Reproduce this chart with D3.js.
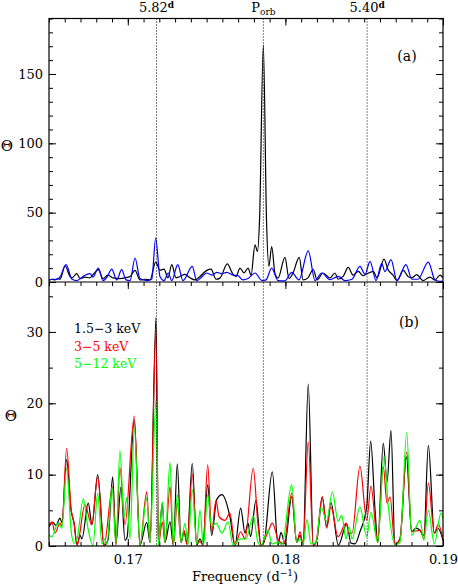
<!DOCTYPE html>
<html><head><meta charset="utf-8">
<script src="https://cdn.jsdelivr.net/npm/d3@7"></script>
<style>body{margin:0;background:#fff}</style>
</head><body>
<svg id="c" width="458" height="585"></svg>
<script>
// ---- data ----
const xDomain = [0.165, 0.19];
const yDomainA = [0, 190];
const yDomainB = [0, 37];
const xTicksMajor = [0.17, 0.18, 0.19];
const xTicksMinor = d3.range(0.165, 0.19001, 0.001);
const yTicksA = [0, 50, 100, 150];
const yTicksAMinor = d3.range(0, 191, 10);
const yTicksB = [0, 10, 20, 30];
const yTicksBMinor = d3.range(0, 37, 5);
const markerPeriods = [5.82, 5.599, 5.40];
const markerLabels = ["5.82", "P", "5.40"];
const legendLabels = ["1.5\u22123 keV", "3\u22125 keV", "5\u221212 keV"];
const colorsB = ["#000000", "#ff0000", "#00ff00"];
const colorsA = ["#000000", "#0000ff"];

// panel (a): full band (black) and second data set (blue)
const aBlack = [[0.16500,1.0],[0.16519,2.0],[0.16538,1.5],[0.16557,2.5],[0.16570,2.0],[0.16602,11.7],[0.16633,4.0],[0.16646,3.0],[0.16676,6.0],[0.16697,2.5],[0.16728,3.5],[0.16760,3.0],[0.16779,5.3],[0.16813,8.9],[0.16843,2.5],[0.16874,5.0],[0.16906,3.0],[0.16950,2.5],[0.16982,3.0],[0.17014,4.0],[0.17046,8.4],[0.17077,1.5],[0.17115,2.0],[0.17141,1.5],[0.17177,14.4],[0.17204,8.5],[0.17230,9.3],[0.17255,3.0],[0.17279,12.5],[0.17306,3.0],[0.17331,4.0],[0.17363,5.5],[0.17395,3.0],[0.17426,1.5],[0.17458,4.0],[0.17501,8.4],[0.17528,9.3],[0.17560,2.0],[0.17585,2.8],[0.17631,13.0],[0.17668,5.5],[0.17687,4.0],[0.17712,10.0],[0.17737,6.5],[0.17763,10.0],[0.17782,5.0],[0.17807,26.8],[0.17823,22.0],[0.17836,45.0],[0.17860,170.8],[0.17880,45.0],[0.17895,11.3],[0.17913,25.6],[0.17934,6.0],[0.17953,2.8],[0.17997,17.7],[0.18023,2.5],[0.18048,6.5],[0.18088,17.7],[0.18112,1.5],[0.18143,3.0],[0.18177,9.0],[0.18201,1.5],[0.18239,6.5],[0.18283,3.0],[0.18315,6.5],[0.18334,2.0],[0.18366,4.0],[0.18399,10.5],[0.18429,5.0],[0.18463,7.7],[0.18492,4.5],[0.18518,6.0],[0.18558,7.7],[0.18581,3.0],[0.18626,16.5],[0.18651,9.0],[0.18683,5.0],[0.18708,1.0],[0.18748,8.4],[0.18778,4.0],[0.18803,3.0],[0.18833,5.3],[0.18873,1.0],[0.18917,3.5],[0.18949,1.5],[0.18981,5.0],[0.19000,3.0]];
const aBlue = [[0.16500,1.5],[0.16525,2.0],[0.16551,2.0],[0.16570,3.6],[0.16608,12.5],[0.16646,2.0],[0.16676,1.0],[0.16716,4.0],[0.16760,6.0],[0.16779,3.5],[0.16813,10.0],[0.16843,1.0],[0.16868,3.5],[0.16898,9.3],[0.16930,1.5],[0.16961,8.9],[0.16989,1.5],[0.17014,1.0],[0.17046,17.3],[0.17077,2.5],[0.17122,1.0],[0.17152,2.0],[0.17177,31.7],[0.17204,4.0],[0.17230,1.0],[0.17257,6.5],[0.17279,1.0],[0.17317,12.5],[0.17350,1.0],[0.17409,11.3],[0.17437,1.0],[0.17464,3.0],[0.17501,6.5],[0.17534,5.0],[0.17564,7.0],[0.17598,6.0],[0.17628,7.0],[0.17668,5.0],[0.17699,4.6],[0.17731,1.5],[0.17763,2.5],[0.17807,6.5],[0.17852,1.0],[0.17877,1.5],[0.17913,10.0],[0.17953,1.0],[0.17997,0.8],[0.18040,7.0],[0.18086,1.5],[0.18145,22.5],[0.18188,1.0],[0.18230,6.5],[0.18283,1.7],[0.18336,4.0],[0.18378,1.0],[0.18423,2.0],[0.18473,11.3],[0.18505,5.5],[0.18537,14.9],[0.18575,1.0],[0.18611,13.2],[0.18632,7.5],[0.18670,16.1],[0.18708,1.0],[0.18765,12.5],[0.18803,2.0],[0.18841,2.0],[0.18907,14.4],[0.18949,1.5],[0.18981,0.5],[0.19000,0.5]];

// panel (b): energy bands
const bBlack = [[0.16500,2.7],[0.16525,3.3],[0.16544,2.9],[0.16570,3.9],[0.16582,3.3],[0.16612,12.1],[0.16640,5.0],[0.16659,3.2],[0.16678,0.2],[0.16697,1.5],[0.16709,1.0],[0.16749,6.0],[0.16773,3.0],[0.16809,10.0],[0.16849,0.1],[0.16874,0.8],[0.16904,9.7],[0.16925,0.5],[0.16957,8.3],[0.16982,0.8],[0.16995,1.2],[0.17041,17.7],[0.17077,0.1],[0.17120,3.3],[0.17141,0.5],[0.17179,32.0],[0.17194,0.2],[0.17219,6.0],[0.17236,0.5],[0.17268,3.4],[0.17289,0.1],[0.17314,11.5],[0.17338,0.5],[0.17357,2.0],[0.17376,0.3],[0.17409,11.6],[0.17437,0.1],[0.17458,1.0],[0.17477,0.2],[0.17507,8.6],[0.17532,1.5],[0.17564,6.5],[0.17598,7.2],[0.17648,4.1],[0.17680,0.1],[0.17716,5.3],[0.17744,1.8],[0.17763,3.2],[0.17779,1.3],[0.17813,6.4],[0.17845,0.1],[0.17864,0.5],[0.17917,10.4],[0.17953,0.1],[0.17972,1.9],[0.17997,0.3],[0.18040,6.9],[0.18072,0.5],[0.18093,1.5],[0.18112,0.2],[0.18145,22.7],[0.18177,0.1],[0.18201,1.0],[0.18234,6.9],[0.18262,2.7],[0.18289,6.1],[0.18336,0.1],[0.18389,3.1],[0.18416,0.4],[0.18442,0.3],[0.18473,2.0],[0.18516,5.5],[0.18541,14.7],[0.18569,5.0],[0.18586,0.5],[0.18621,14.4],[0.18645,9.0],[0.18670,16.2],[0.18695,0.2],[0.18727,1.0],[0.18768,12.5],[0.18801,2.0],[0.18829,2.5],[0.18854,2.2],[0.18879,1.5],[0.18907,14.1],[0.18945,1.8],[0.18968,2.5],[0.19000,0.8]];
const bRed = [[0.16500,2.9],[0.16519,3.4],[0.16538,1.8],[0.16570,3.2],[0.16582,2.8],[0.16612,13.7],[0.16640,5.2],[0.16659,3.2],[0.16678,0.1],[0.16728,5.75],[0.16771,3.0],[0.16809,9.7],[0.16849,0.1],[0.16904,8.3],[0.16925,0.1],[0.16950,11.0],[0.16982,3.0],[0.17041,18.2],[0.17077,0.1],[0.17120,7.6],[0.17141,0.5],[0.17179,30.5],[0.17194,0.1],[0.17219,3.4],[0.17236,0.5],[0.17268,8.3],[0.17289,0.1],[0.17314,6.0],[0.17338,0.5],[0.17357,2.2],[0.17376,0.2],[0.17409,10.1],[0.17437,0.5],[0.17458,0.6],[0.17477,0.1],[0.17507,11.4],[0.17532,2.0],[0.17560,6.4],[0.17579,4.1],[0.17617,3.6],[0.17648,4.6],[0.17680,0.1],[0.17716,2.0],[0.17744,1.0],[0.17796,10.9],[0.17826,3.0],[0.17845,0.1],[0.17890,2.0],[0.17917,3.2],[0.17953,1.0],[0.17990,0.3],[0.18040,7.4],[0.18072,0.5],[0.18093,2.0],[0.18112,0.1],[0.18145,14.6],[0.18177,0.1],[0.18194,0.5],[0.18234,6.9],[0.18262,2.5],[0.18289,5.5],[0.18334,1.3],[0.18385,3.2],[0.18404,1.8],[0.18423,1.8],[0.18473,11.2],[0.18516,3.6],[0.18543,8.4],[0.18586,0.5],[0.18621,11.1],[0.18645,6.0],[0.18664,6.9],[0.18695,0.2],[0.18727,1.0],[0.18770,13.2],[0.18801,2.0],[0.18854,2.2],[0.18879,1.0],[0.18907,8.8],[0.18945,1.8],[0.18970,3.05],[0.19000,1.0]];
const bGreen = [[0.16500,1.5],[0.16519,1.3],[0.16557,3.2],[0.16582,2.5],[0.16612,10.9],[0.16640,2.2],[0.16659,0.4],[0.16678,1.0],[0.16718,6.6],[0.16747,2.5],[0.16779,0.1],[0.16809,7.4],[0.16836,0.3],[0.16852,1.0],[0.16868,0.2],[0.16900,8.3],[0.16925,0.3],[0.16950,13.4],[0.16976,4.0],[0.16993,6.8],[0.17014,1.0],[0.17041,16.5],[0.17077,0.1],[0.17120,6.7],[0.17141,0.5],[0.17179,20.5],[0.17194,0.1],[0.17219,6.2],[0.17236,0.5],[0.17268,11.7],[0.17289,0.1],[0.17314,7.2],[0.17338,0.5],[0.17363,3.2],[0.17382,0.2],[0.17409,7.9],[0.17437,0.3],[0.17458,5.0],[0.17480,0.1],[0.17507,7.2],[0.17532,2.7],[0.17560,3.2],[0.17598,1.8],[0.17636,3.4],[0.17668,0.1],[0.17712,1.0],[0.17750,1.0],[0.17796,4.2],[0.17826,0.5],[0.17845,0.1],[0.17890,2.2],[0.17915,0.3],[0.17953,0.5],[0.17978,0.2],[0.18040,8.6],[0.18072,0.5],[0.18093,1.0],[0.18112,0.2],[0.18137,3.7],[0.18162,0.3],[0.18194,0.5],[0.18226,5.4],[0.18262,3.5],[0.18298,7.6],[0.18334,3.5],[0.18357,4.3],[0.18385,1.0],[0.18404,2.7],[0.18423,1.0],[0.18473,5.5],[0.18516,1.3],[0.18543,4.7],[0.18586,0.5],[0.18626,12.6],[0.18651,6.0],[0.18695,0.2],[0.18727,0.5],[0.18770,15.9],[0.18801,1.5],[0.18854,3.6],[0.18879,0.8],[0.18907,5.0],[0.18945,0.3],[0.18987,4.6],[0.19000,3.8]];

// ---- layout ----
const L = 49, R = 443, TA = 18.5, MID = 282, BOT = 546;
const FONT = "'DejaVu Serif', serif";
const svg = d3.select("#c");
const x = d3.scaleLinear().domain(xDomain).range([L, R]);
const yA = d3.scaleLinear().domain(yDomainA).range([MID, TA]);
const yB = d3.scaleLinear().domain(yDomainB).range([BOT, MID]);

const defs = svg.append("defs");
defs.append("clipPath").attr("id","clipA").append("rect").attr("x",L).attr("y",TA).attr("width",R-L).attr("height",MID-TA);
defs.append("clipPath").attr("id","clipB").append("rect").attr("x",L).attr("y",MID).attr("width",R-L).attr("height",BOT-MID);

function line(y){ return d3.line().x(d=>x(d[0])).y(d=>y(d[1])).curve(d3.curveMonotoneX); }

// curves panel a
const gA = svg.append("g").attr("clip-path","url(#clipA)");
[aBlack, aBlue].forEach((s,i)=>{
  gA.append("path").datum(s).attr("d", line(yA)).attr("fill","none").attr("stroke",colorsA[i]).attr("stroke-width",1.2);
});
// curves panel b
const gB = svg.append("g").attr("clip-path","url(#clipB)");
[bBlack, bRed, bGreen].forEach((s,i)=>{
  gB.append("path").datum(s).attr("d", line(yB)).attr("fill","none").attr("stroke",colorsB[i]).attr("stroke-width",1.2);
});

// dotted marker lines
markerPeriods.forEach(p=>{
  svg.append("line").attr("x1",x(1/p)).attr("x2",x(1/p)).attr("y1",TA).attr("y2",BOT)
    .attr("stroke","#000").attr("stroke-width",1).attr("stroke-dasharray","1,2");
});

// axes helper
function styleAxis(g){
  g.select(".domain").remove();
  g.selectAll(".tick line").attr("stroke","#000").attr("stroke-width",1);
  g.selectAll("text").attr("font-family",FONT).attr("font-size",13).attr("fill","#000");
}
function addAxis(axis, tx, ty){
  const g = svg.append("g").attr("transform",`translate(${tx},${ty})`).call(axis);
  styleAxis(g); return g;
}
const noLab = ()=>"";
// panel a
addAxis(d3.axisLeft(yA).tickValues(yTicksAMinor).tickSize(-4).tickFormat(noLab), L, 0);
addAxis(d3.axisLeft(yA).tickValues(yTicksA).tickSize(-7).tickPadding(6).tickFormat(d3.format("d")), L, 0);
addAxis(d3.axisRight(yA).tickValues(yTicksAMinor).tickSize(-4).tickFormat(noLab), R, 0);
addAxis(d3.axisRight(yA).tickValues(yTicksA).tickSize(-7).tickFormat(noLab), R, 0);
addAxis(d3.axisTop(x).tickValues(xTicksMinor).tickSize(-4).tickFormat(noLab), 0, TA);
addAxis(d3.axisTop(x).tickValues(xTicksMajor).tickSize(-7).tickFormat(noLab), 0, TA);
// panel b
addAxis(d3.axisLeft(yB).tickValues(yTicksBMinor).tickSize(-4).tickFormat(noLab), L, 0);
addAxis(d3.axisLeft(yB).tickValues(yTicksB).tickSize(-7).tickPadding(6).tickFormat(d3.format("d")), L, 0);
addAxis(d3.axisRight(yB).tickValues(yTicksBMinor).tickSize(-4).tickFormat(noLab), R, 0);
addAxis(d3.axisRight(yB).tickValues(yTicksB).tickSize(-7).tickFormat(noLab), R, 0);
addAxis(d3.axisBottom(x).tickValues(xTicksMinor).tickSize(4).tickFormat(noLab), 0, MID);
addAxis(d3.axisBottom(x).tickValues(xTicksMajor).tickSize(7).tickFormat(noLab), 0, MID);
addAxis(d3.axisBottom(x).tickValues(xTicksMinor).tickSize(-4).tickFormat(noLab), 0, BOT);
addAxis(d3.axisBottom(x).tickValues(xTicksMajor).tickSize(-7).tickPadding(9).tickFormat(d3.format(".2f")), 0, BOT);

// frames
svg.append("rect").attr("x",L).attr("y",TA).attr("width",R-L).attr("height",BOT-TA).attr("fill","none").attr("stroke","#000").attr("stroke-width",1.2);
svg.append("line").attr("x1",L).attr("x2",R).attr("y1",MID).attr("y2",MID).attr("stroke","#000").attr("stroke-width",1.2);

// top marker labels
markerPeriods.forEach((p,i)=>{
  const t = svg.append("text").attr("x",x(1/p)).attr("y",12).attr("text-anchor","middle")
    .attr("font-family",FONT).attr("font-size",13).attr("fill","#000");
  t.append("tspan").text(markerLabels[i]);
  if(i===1){ t.append("tspan").attr("font-size",9).attr("dy",3).text("orb"); }
  else { t.append("tspan").attr("font-size",9).attr("font-weight","bold").attr("dy",-4).text("d"); }
});

// panel letters
svg.append("text").attr("x",407).attr("y",61).attr("text-anchor","middle").attr("font-family",FONT).attr("font-size",14).text("(a)");
svg.append("text").attr("x",409).attr("y",327).attr("text-anchor","middle").attr("font-family",FONT).attr("font-size",14).text("(b)");

// legend
legendLabels.forEach((s,i)=>{
  svg.append("text").attr("x",74).attr("y",333+i*17.7).attr("font-family",FONT).attr("font-size",12.5)
    .attr("fill",colorsB[i]).text(s);
});

// y-axis labels (Theta)
svg.append("text").attr("x",7).attr("y",151).attr("text-anchor","middle").attr("font-family",FONT).attr("font-size",15).text("\u0398");
svg.append("text").attr("x",11).attr("y",421).attr("text-anchor","middle").attr("font-family",FONT).attr("font-size",15).text("\u0398");

// x-axis label
const xl = svg.append("text").attr("x",245).attr("y",581).attr("text-anchor","middle").attr("font-family",FONT).attr("font-size",13);
xl.append("tspan").text("Frequency (d");
xl.append("tspan").attr("font-size",9).attr("dy",-5).text("\u22121");
xl.append("tspan").attr("dy",5).text(")");
</script>
</body></html>
